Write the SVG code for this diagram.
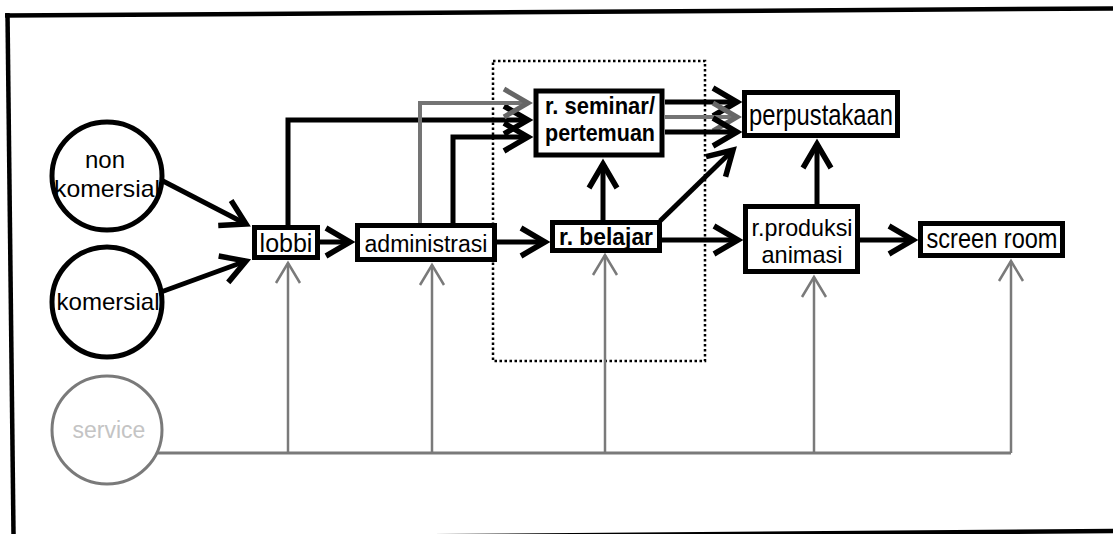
<svg xmlns="http://www.w3.org/2000/svg" width="1113" height="534" viewBox="0 0 1113 534">
<style>
.box{fill:#fff;stroke:#000;stroke-width:5}
.circ{fill:#fff;stroke:#000;stroke-width:5}
.lbl{font-family:"Liberation Sans",Arial,sans-serif;fill:#000;text-anchor:middle}
.b{font-weight:bold}
.c{stroke:#000;stroke-width:5;fill:none;marker-end:url(#ah)}
.cg{stroke:#747474;stroke-width:4;fill:none;marker-end:url(#ahg)}
.s{stroke:#7a7a7a;stroke-width:2.5;fill:none;marker-end:url(#ahs)}
.frame{stroke:#000;stroke-width:4.5;fill:none}
</style>
<defs>
<marker id="ah" markerUnits="userSpaceOnUse" markerWidth="40" markerHeight="40" viewBox="-30 -20 40 40" refX="0" refY="0" orient="auto" overflow="visible">
<path d="M-24,-14 L0,0 L-24,14" fill="none" stroke="#000" stroke-width="5.5" stroke-linejoin="miter"/>
</marker>
<marker id="ahg" markerUnits="userSpaceOnUse" markerWidth="40" markerHeight="40" viewBox="-30 -20 40 40" refX="0" refY="0" orient="auto" overflow="visible">
<path d="M-24,-14 L0,0 L-24,14" fill="none" stroke="#666" stroke-width="5" stroke-linejoin="miter"/>
</marker>
<marker id="ahs" markerUnits="userSpaceOnUse" markerWidth="40" markerHeight="40" viewBox="-30 -20 40 40" refX="0" refY="0" orient="auto" overflow="visible">
<path d="M-20,-12 L0,0 L-20,12" fill="none" stroke="#7a7a7a" stroke-width="2.5" stroke-linejoin="miter"/>
</marker>
</defs>

<g id="frame">
<path class="frame" d="M5,15.5 L1113,8.5"/>
<path class="frame" d="M7.5,13 L13.5,534"/>
<path class="frame" d="M400,536.5 L1113,531" stroke-width="3.5"/>
</g>

<g id="group-zone">
<rect x="493" y="61" width="212" height="300" fill="none" stroke="#000" stroke-width="2.5" stroke-dasharray="2.5 2.5"/>
</g>

<g id="connectors">
<path class="c" d="M161,180 L246,224"/>
<path class="c" d="M161,292 L246,261"/>
<path class="c" d="M320,242 L350,242"/>
<path class="c" d="M288,225 L288,120 L528,120"/>
<path class="c" d="M453,223 L453,137 L528,137"/>
<path class="cg" d="M420,223 L420,103 L528,103"/>
<path class="c" d="M497,242 L545,242"/>
<path class="c" d="M603,220 L603,164"/>
<path class="c" d="M660,221 L733,150"/>
<path class="c" d="M662,240 L738,240"/>
<path class="c" d="M665,102 L737,102"/>
<path class="cg" d="M665,117 L737,117"/>
<path class="c" d="M665,132 L737,132"/>
<path class="c" d="M817,204 L817,144"/>
<path class="c" d="M860,240 L913,240"/>
<path d="M157,453 L1011,453" stroke="#7a7a7a" stroke-width="3" fill="none"/>
<path class="s" d="M288,453 L288,263"/>
<path class="s" d="M432,453 L432,265"/>
<path class="s" d="M605,453 L605,255"/>
<path class="s" d="M814,453 L814,277"/>
<path class="s" d="M1011,453 L1011,261"/>
</g>

<g id="node-non-komersial">
<ellipse class="circ" cx="107" cy="176" rx="55" ry="54"/>
<text class="lbl" x="105" y="168" font-size="24">non</text>
<text class="lbl" x="107" y="197" font-size="24" textLength="106" lengthAdjust="spacingAndGlyphs">komersial</text>
</g>

<g id="node-komersial">
<ellipse class="circ" cx="107" cy="302" rx="55" ry="55"/>
<text class="lbl" x="108" y="310" font-size="24" textLength="103" lengthAdjust="spacingAndGlyphs">komersial</text>
</g>

<g id="node-service">
<ellipse cx="107" cy="430" rx="55" ry="54" fill="#fff" stroke="#7a7a7a" stroke-width="3"/>
<text class="lbl" x="109" y="438" font-size="23" style="fill:#c4c4c4">service</text>
</g>

<g id="node-lobbi">
<rect class="box" x="254.5" y="227.5" width="63" height="30"/>
<text class="lbl" x="286" y="252" font-size="25">lobbi</text>
</g>

<g id="node-administrasi">
<rect class="box" x="357.5" y="225.5" width="137" height="34"/>
<text class="lbl" x="426" y="252" font-size="23.5" textLength="123" lengthAdjust="spacingAndGlyphs">administrasi</text>
</g>

<g id="node-seminar">
<rect class="box" x="536" y="91" width="126" height="64" stroke-width="6"/>
<text class="lbl b" x="600" y="114" font-size="24" textLength="110" lengthAdjust="spacingAndGlyphs">r. seminar/</text>
<text class="lbl b" x="600" y="141" font-size="24" textLength="110" lengthAdjust="spacingAndGlyphs">pertemuan</text>
</g>

<g id="node-belajar">
<rect class="box" x="552.5" y="222.5" width="107" height="28"/>
<text class="lbl b" x="606" y="245" font-size="23" textLength="94" lengthAdjust="spacingAndGlyphs">r. belajar</text>
</g>

<g id="node-perpustakaan">
<rect class="box" x="744.5" y="92.5" width="153" height="43"/>
<text class="lbl" x="821" y="125" font-size="30" textLength="144" lengthAdjust="spacingAndGlyphs">perpustakaan</text>
</g>

<g id="node-produksi">
<rect class="box" x="745.5" y="206.5" width="112" height="65"/>
<text class="lbl" x="802" y="236" font-size="24" textLength="101" lengthAdjust="spacingAndGlyphs">r.produksi</text>
<text class="lbl" x="802" y="263" font-size="24" textLength="81" lengthAdjust="spacingAndGlyphs">animasi</text>
</g>

<g id="node-screen-room">
<rect class="box" x="920.5" y="223.5" width="142" height="32"/>
<text class="lbl" x="992" y="248" font-size="28" textLength="131" lengthAdjust="spacingAndGlyphs">screen room</text>
</g>
</svg>
